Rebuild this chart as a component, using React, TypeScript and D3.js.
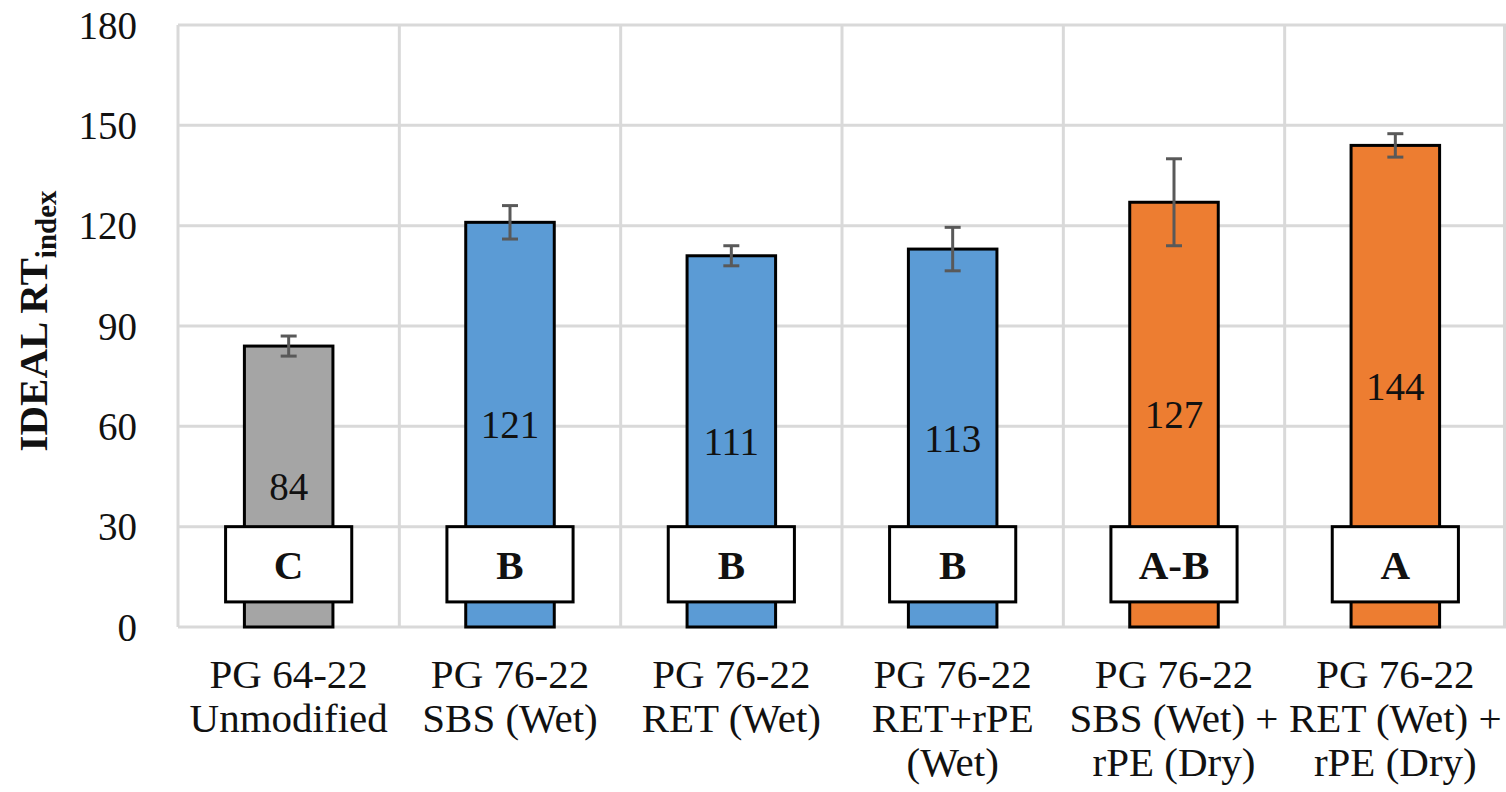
import * as d3 from "d3";

const categories = [
  ["PG 64-22", "Unmodified"],
  ["PG 76-22", "SBS (Wet)"],
  ["PG 76-22", "RET (Wet)"],
  ["PG 76-22", "RET+rPE", "(Wet)"],
  ["PG 76-22", "SBS (Wet) +", "rPE (Dry)"],
  ["PG 76-22", "RET (Wet) +", "rPE (Dry)"],
];
const values = [84, 121, 111, 113, 127, 144];
const errors = [3, 5, 3, 6.5, 13, 3.5];
const groups = ["C", "B", "B", "B", "A-B", "A"];
const barColors = ["#a5a5a5", "#5b9bd5", "#5b9bd5", "#5b9bd5", "#ed7d31", "#ed7d31"];
const yTicks = [0, 30, 60, 90, 120, 150, 180];

const W = 1506, H = 792;
const margin = { left: 178, right: 0, top: 25, bottom: 165 };
const font = "Liberation Serif";

const App = () => {
  const x = d3.scaleBand<number>()
    .domain(d3.range(values.length))
    .range([margin.left, W - margin.right]);
  const y = d3.scaleLinear().domain([0, 180]).range([H - margin.bottom, margin.top]);
  const bw = x.bandwidth() * 0.4;
  const boxW = x.bandwidth() * 0.57;

  return (
    <svg width={W} height={H} style={{ position: "absolute", left: 0, top: 0, fontFamily: font }}>
      <rect width={W} height={H} fill="#fff" />
      {/* grid */}
      {yTicks.map((t) => (
        <line key={"h" + t} x1={margin.left} x2={W - margin.right} y1={y(t)} y2={y(t)} stroke="#d9d9d9" strokeWidth={3} />
      ))}
      {d3.range(values.length + 1).map((i) => {
        const xx = i < values.length ? x(i)! : W - margin.right - 1.5;
        return <line key={"v" + i} x1={xx} x2={xx} y1={y(180)} y2={y(0)} stroke="#d9d9d9" strokeWidth={3} />;
      })}
      {/* tick labels */}
      {yTicks.map((t) => (
        <text key={"t" + t} x={margin.left - 41} y={y(t)} dy="0.35em" textAnchor="end" fontSize={39} fill="#111">{t}</text>
      ))}
      {/* y title */}
      <text transform={`translate(47,${(y(0) + y(180)) / 2 - 5}) rotate(-90)`} textAnchor="middle" fontSize={41} fontWeight="bold" fill="#111">
        IDEAL RT<tspan fontSize={29} dy={9}>index</tspan>
      </text>
      {/* bars */}
      {values.map((v, i) => {
        const cx = x(i)! + x.bandwidth() / 2;
        return (
          <g key={"b" + i}>
            <rect x={cx - bw / 2} y={y(v)} width={bw} height={y(0) - y(v)} fill={barColors[i]} stroke="#000" strokeWidth={3} />
            <line x1={cx} x2={cx} y1={y(v + errors[i])} y2={y(v - errors[i])} stroke="#595959" strokeWidth={3} />
            <line x1={cx - 8} x2={cx + 8} y1={y(v + errors[i])} y2={y(v + errors[i])} stroke="#595959" strokeWidth={3} />
            <line x1={cx - 8} x2={cx + 8} y1={y(v - errors[i])} y2={y(v - errors[i])} stroke="#595959" strokeWidth={3} />
            <text x={cx} y={y(v / 2)} dy="0.35em" textAnchor="middle" fontSize={39} fill="#111">{v}</text>
            <rect x={cx - boxW / 2} y={y(30)} width={boxW} height={y(7.5) - y(30)} fill="#fff" stroke="#000" strokeWidth={3} />
            <text x={cx} y={y(18.75)} dy="0.35em" textAnchor="middle" fontSize={41} fontWeight="bold" fill="#111">{groups[i]}</text>
          </g>
        );
      })}
      {/* category labels */}
      {categories.map((lines, i) => {
        const cx = x(i)! + x.bandwidth() / 2;
        return (
          <text key={"c" + i} x={cx} y={688} textAnchor="middle" fontSize={41} fill="#111">
            {lines.map((l, j) => (
              <tspan key={j} x={cx} dy={j === 0 ? 0 : 44}>{l}</tspan>
            ))}
          </text>
        );
      })}
    </svg>
  );
};

export default App;
